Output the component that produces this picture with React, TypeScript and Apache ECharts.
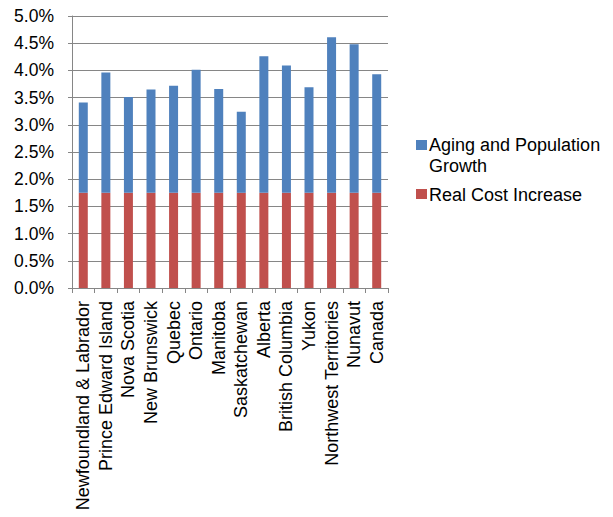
import React, { useEffect, useRef } from "react";
import * as echarts from "echarts";

const provinces = [
  "Newfoundland & Labrador",
  "Prince Edward Island",
  "Nova Scotia",
  "New Brunswick",
  "Quebec",
  "Ontario",
  "Manitoba",
  "Saskatchewan",
  "Alberta",
  "British Columbia",
  "Yukon",
  "Northwest Territories",
  "Nunavut",
  "Canada",
];

// Annual growth, percent
const realCostIncrease = [1.75, 1.75, 1.75, 1.75, 1.75, 1.75, 1.75, 1.75, 1.75, 1.75, 1.75, 1.75, 1.75, 1.75];
const agingAndPopulation = [1.66, 2.21, 1.76, 1.9, 1.97, 2.26, 1.91, 1.49, 2.51, 2.34, 1.94, 2.86, 2.73, 2.18];

const seriesNames = ["Aging and Population Growth", "Real Cost Increase"];
const seriesColors = ["#4F81BD", "#C0504D"];

const yTicks = { min: 0, max: 5, interval: 0.5 };

const FONT = "'Liberation Sans', Arial, sans-serif";
const AXIS_GRAY = "#868686";

export default function App() {
  const ref = useRef<HTMLDivElement>(null);

  useEffect(() => {
    if (!ref.current) return;
    const chart = echarts.init(ref.current, null, { renderer: "svg" });
    chart.setOption({
      animation: false,
      backgroundColor: "#ffffff",
      textStyle: { fontFamily: FONT },
      grid: { left: 72, right: 225, top: 16, bottom: 229, containLabel: false },
      // Legend drawn as graphics so the swatch sits beside the first line of a wrapped name
      graphic: [
        { type: "rect", left: 416, top: 140, shape: { width: 11, height: 10 }, style: { fill: seriesColors[0] } },
        {
          type: "text",
          left: 429,
          top: 134,
          style: {
            text: "Aging and Population\nGrowth",
            fontFamily: FONT,
            fontSize: 18,
            lineHeight: 21,
            fill: "#000",
          },
        },
        { type: "rect", left: 416, top: 189, shape: { width: 11, height: 10 }, style: { fill: seriesColors[1] } },
        {
          type: "text",
          left: 429,
          top: 184,
          style: {
            text: seriesNames[1],
            fontFamily: FONT,
            fontSize: 18,
            lineHeight: 21,
            fill: "#000",
          },
        },
      ],
      xAxis: {
        type: "category",
        data: provinces,
        axisLine: { show: true, lineStyle: { color: AXIS_GRAY, width: 1 } },
        axisTick: { show: true, length: 5, lineStyle: { color: AXIS_GRAY } },
        axisLabel: {
          rotate: 90,
          interval: 0,
          margin: 13,
          fontFamily: FONT,
          fontSize: 18,
          color: "#000",
        },
      },
      yAxis: {
        type: "value",
        min: yTicks.min,
        max: yTicks.max,
        interval: yTicks.interval,
        axisLine: { show: true, lineStyle: { color: AXIS_GRAY, width: 1 } },
        axisTick: { show: true, length: 4, lineStyle: { color: AXIS_GRAY } },
        splitLine: { show: true, lineStyle: { color: AXIS_GRAY, width: 1 } },
        axisLabel: {
          margin: 18,
          fontFamily: FONT,
          fontSize: 17.5,
          color: "#000",
          formatter: (v: number) => v.toFixed(1) + "%",
        },
      },
      series: [
        {
          name: seriesNames[1],
          type: "bar",
          stack: "total",
          barWidth: 9,
          itemStyle: { color: seriesColors[1] },
          data: realCostIncrease,
        },
        {
          name: seriesNames[0],
          type: "bar",
          stack: "total",
          barWidth: 9,
          itemStyle: { color: seriesColors[0] },
          data: agingAndPopulation,
        },
      ],
    });
    return () => chart.dispose();
  }, []);

  return <div ref={ref} style={{ width: 613, height: 517, position: "absolute", left: 0, top: 0 }} />;
}
